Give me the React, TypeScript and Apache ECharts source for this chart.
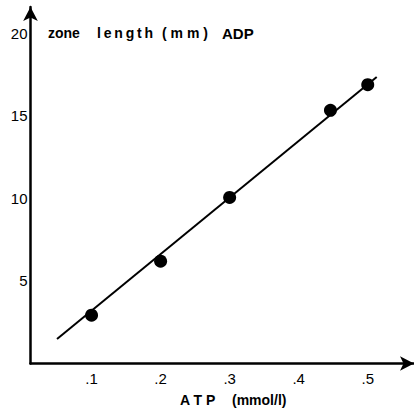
import React, { useEffect, useRef } from "react";
import * as echarts from "echarts";

const atp = [0.1, 0.2, 0.3, 0.446, 0.5];
const zoneLength = [2.93, 6.2, 10.06, 15.34, 16.89];
const fitX = [0.05, 0.513];
const fitY = [1.48, 17.36];
const xTicks = [0.1, 0.2, 0.3, 0.4, 0.5];
const yTicks = [5, 10, 15, 20];
const titleWords = ["zone", "l\u2009e\u2009n\u2009g\u2009t\u2009h", "( m m )", "ADP"];
const xNameWords = ["A T P", "(mmol/l)"];

export default function App() {
  const ref = useRef<HTMLDivElement>(null);
  useEffect(() => {
    if (!ref.current) return;
    const chart = echarts.init(ref.current, null, { renderer: "svg" });
    const font = "'Liberation Sans', Arial, sans-serif";
    const titleX = [48, 97, 162, 222];
    const titleSize = [14, 14, 14, 15];
    const xNameX = [180, 232];
    chart.setOption({
      animation: false,
      grid: { left: 30.5, right: 0, top: 7, bottom: 44.5 },
      xAxis: {
        type: "value",
        min: 0.0116,
        max: 0.567,
        axisLine: {
          show: true,
          symbol: ["none", "arrow"],
          symbolSize: [11, 14],
          lineStyle: { color: "#000", width: 2.5 },
        },
        axisTick: { show: false },
        splitLine: { show: false },
        axisLabel: {
          customValues: xTicks,
          formatter: (v: number) => "." + Math.round(v * 10),
          color: "#000",
          fontSize: 15,
          fontFamily: font,
          margin: 7,
        },
      },
      yAxis: {
        type: "value",
        min: 0,
        max: 21.6,
        axisLine: {
          show: true,
          symbol: ["none", "arrow"],
          symbolSize: [11, 14],
          lineStyle: { color: "#000", width: 2.5 },
        },
        axisTick: { show: false },
        splitLine: { show: false },
        axisLabel: {
          customValues: yTicks,
          formatter: (v: number) => (yTicks.includes(v) ? String(v) : ""),
          color: "#000",
          fontSize: 15,
          fontFamily: font,
          margin: 3,
        },
      },
      series: [
        {
          type: "line",
          data: fitX.map((x, i) => [x, fitY[i]]),
          symbol: "none",
          lineStyle: { color: "#000", width: 2 },
        },
        {
          type: "scatter",
          data: atp.map((x, i) => [x, zoneLength[i]]),
          symbolSize: 13,
          itemStyle: { color: "#000", opacity: 1 },
        },
      ],
      graphic: [
        ...titleWords.map((w, i) => ({
          type: "text",
          x: titleX[i],
          y: 33,
          style: {
            text: w,
            fill: "#000",
            font: `bold ${titleSize[i]}px ${font}`,
            verticalAlign: "middle",
          },
        })),
        ...xNameWords.map((w, i) => ({
          type: "text",
          x: xNameX[i],
          y: 400,
          style: {
            text: w,
            fill: "#000",
            font: `bold 14px ${font}`,
            verticalAlign: "middle",
          },
        })),
      ],
    });
    return () => chart.dispose();
  }, []);
  return (
    <div
      ref={ref}
      style={{ position: "fixed", left: 0, top: 0, width: 414, height: 408, background: "#fff" }}
    />
  );
}
